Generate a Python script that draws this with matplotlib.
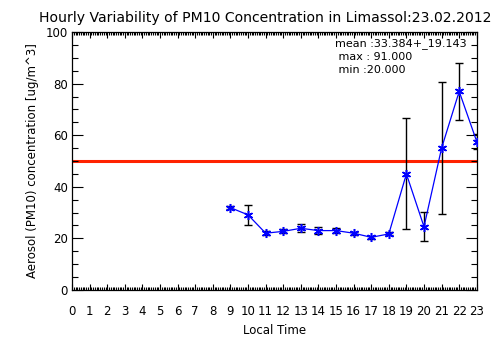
import matplotlib
matplotlib.use('Agg')
import matplotlib.pyplot as plt
from matplotlib.ticker import MultipleLocator

# hourly means and standard deviations
hours = [9, 10, 11, 12, 13, 14, 15, 16, 17, 18, 19, 20, 21, 22, 23]
pm10 = [31.9, 29.1, 22.0, 22.7, 23.9, 23.0, 23.0, 22.0, 20.4, 21.7, 45.0, 24.5, 55.0, 77.0, 57.5]
pm10_std = [0.5, 4.0, 0.8, 0.8, 1.6, 1.4, 0.9, 0.6, 0.5, 0.6, 21.5, 5.6, 25.5, 11.2, 3.0]
limit = 50
stats = ['mean :33.384+_19.143', ' max : 91.000', ' min :20.000']

fig = plt.figure(figsize=(5.04, 3.61), dpi=100)
ax = fig.add_axes([0.143, 0.197, 0.803, 0.714])

ax.axhline(limit, color='#ff2200', lw=2.2, zorder=1)
ax.errorbar(hours, pm10, yerr=pm10_std, fmt='none', ecolor='black',
            elinewidth=1, capsize=3, capthick=1, zorder=2)
ax.plot(hours, pm10, color='blue', lw=0.9, marker=(6, 2, 0),
        markersize=6.5, markeredgewidth=1.1, zorder=3)

ax.set_xlim(0, 23)
ax.set_ylim(0, 100)
ax.set_xticks(range(0, 24))
ax.xaxis.set_minor_locator(MultipleLocator(0.1))
ax.yaxis.set_major_locator(MultipleLocator(20))
ax.yaxis.set_minor_locator(MultipleLocator(5))
ax.tick_params(which='both', direction='in', top=True, right=True, width=0.8)
ax.tick_params(axis='x', which='major', length=4, pad=11, labelsize=8.5)
ax.tick_params(axis='x', which='minor', length=2)
ax.tick_params(axis='y', which='major', length=8, pad=3, labelsize=8.5)
ax.tick_params(axis='y', which='minor', length=4)
for s in ax.spines.values():
    s.set_linewidth(0.9)

ax.set_xlabel('Local Time', fontsize=8.5, labelpad=4)
ax.set_ylabel('Aerosol (PM10) concentration [ug/m^3]', fontsize=8.5, labelpad=5)
fig.text(0.077, 0.95, 'Hourly Variability of PM10 Concentration in Limassol:23.02.2012',
         ha='left', va='center', fontsize=10.1)

for i, line in enumerate(stats):
    ax.text(0.65, 0.955 - i * 0.05, line, transform=ax.transAxes,
            fontsize=8, va='center', ha='left')

fig.savefig('out.png', dpi=100)
